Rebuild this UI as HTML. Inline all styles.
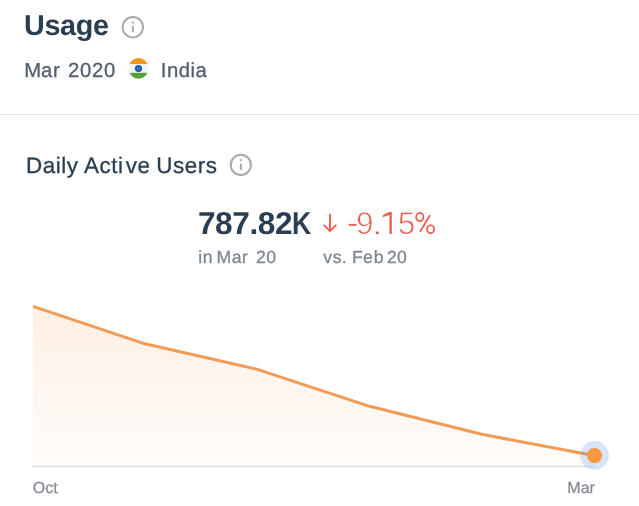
<!DOCTYPE html>
<html>
<head>
<meta charset="utf-8">
<style>
html,body{margin:0;padding:0;background:#fff;}
body{width:639px;height:506px;position:relative;overflow:hidden;font-family:"Liberation Sans",sans-serif;}
.t{text-rendering:geometricPrecision;position:absolute;white-space:nowrap;line-height:1;transform-origin:0 0;}
#title{left:24.0px;top:11.9px;font-size:28.8px;letter-spacing:-0.35px;font-weight:bold;color:#2a3e52;}
#date{left:24.3px;top:61.2px;font-size:20.3px;letter-spacing:0.75px;color:#535e6e;}
#country{left:160.8px;top:61.2px;font-size:20.3px;letter-spacing:0.5px;color:#535e6e;}
#hr{position:absolute;left:0;top:114px;width:639px;height:1px;background:#e3e3e4;border-bottom:1px solid #f8f8f8;}
#dau{left:26.0px;top:154.5px;font-size:22.4px;letter-spacing:0.55px;color:#2a3e52;}
#big{left:197.9px;top:207.6px;font-size:31.6px;letter-spacing:-0.4px;font-weight:bold;color:#2a3e52;}
#pct{left:348px;top:207.6px;font-size:31.6px;color:#ec5d4f;-webkit-text-stroke:0.7px #fff;}
#pct span{position:absolute;top:0;}
#date,#country,#dau,#sub1,#sub2,#oct,#mar{-webkit-text-stroke-width:0.3px;}
#sub1{left:198.3px;top:248.5px;font-size:17.6px;letter-spacing:0.5px;color:#7e8792;}
#sub2{left:323.2px;top:248.5px;font-size:17.6px;letter-spacing:0.15px;color:#7e8792;}
#oct{left:32.8px;top:481.3px;font-size:16px;color:#868d98;}
#mar{left:567.3px;top:481.3px;font-size:16px;color:#868d98;}
svg{position:absolute;left:0;top:0;}
</style>
</head>
<body>
<div id="texts" style="position:absolute;left:0;top:0;width:639px;height:506px;will-change:transform;">
<div class="t" id="title">Usage</div>
<div class="t" id="date">M<span style="position:relative;left:-1px">ar</span> 2020</div>
<div class="t" id="country">India</div>
<div id="hr"></div>
<div class="t" id="dau">Daily Acti<span style="position:relative;left:2.1px">ve</span> <span style="position:relative;left:1.2px">Users</span></div>
<div class="t" id="big">787.82<span style="display:inline-block;transform:scaleX(0.84);transform-origin:0 0;">K</span></div>
<div class="t" id="pct"><span style="left:8.0px">9</span><span style="left:49.8px">5</span></div>
<div class="t" id="sub1">in <span style="position:relative;left:-1.9px">Mar</span> <span style="position:relative;left:0.3px">20</span></div>
<div class="t" id="sub2">v<span style="position:relative;left:0.7px">s.</span> <span style="position:relative;left:0.9px">Fe<span style="position:relative;left:0.9px">b</span></span> 20</div>
<div class="t" id="oct">Oct</div>
<div class="t" id="mar">Mar</div>
</div>
<svg width="639" height="506" viewBox="0 0 639 506">
  <defs>
    <linearGradient id="g" gradientUnits="userSpaceOnUse" x1="0" y1="306" x2="0" y2="466">
      <stop offset="0" stop-color="#fef0e4"/>
      <stop offset="1" stop-color="#fffcfa"/>
    </linearGradient>
    <clipPath id="fc"><ellipse cx="138.5" cy="68.4" rx="10" ry="10.4"/></clipPath>
  </defs>
  <!-- info icons -->
  <circle cx="132.8" cy="27.2" r="10.2" fill="none" stroke="#a9aaab" stroke-width="2"/>
  <rect x="131.9" y="26" width="2" height="6.3" fill="#a9aaab"/>
  <rect x="131.9" y="21.6" width="2" height="2" fill="#a9aaab"/>
  <circle cx="240.8" cy="164.9" r="10.1" fill="none" stroke="#a9aaab" stroke-width="2"/>
  <rect x="239.9" y="163.6" width="2" height="6.3" fill="#a9aaab"/>
  <rect x="239.9" y="159.1" width="2" height="2" fill="#a9aaab"/>
  <!-- flag -->
  <g clip-path="url(#fc)">
    <rect x="128" y="57" width="22" height="7.2" fill="#f7941d"/>
    <rect x="128" y="64.2" width="22" height="8.6" fill="#f5f5f5"/>
    <rect x="128" y="72.8" width="22" height="7.2" fill="#55a238"/>
    <circle cx="138.5" cy="68.5" r="3.6" fill="#1f57a8"/>
    <circle cx="138.5" cy="68.5" r="1.6" fill="#3d7bd0"/>
  </g>
  <!-- arrow -->
  <path d="M330 214 V231 M323.7 224.9 L330 231.2 L336.3 224.9" fill="none" stroke="#ec5d4f" stroke-width="1.9" stroke-linejoin="round"/>
  <!-- pct glyphs -->
  <g fill="#ec5d4f" stroke="none">
    <rect x="348.8" y="223.9" width="7.6" height="1.9"/>
    <rect x="375.8" y="231.5" width="3.1" height="2.6" rx="0.9"/>
    <path d="M389.2 212 H391.8 V234 H389.5 V214.7 L382.9 217.3 V215.0 Z"/>
  </g>
  <g fill="none" stroke="#ec5d4f" stroke-width="1.75">
    <ellipse cx="419.8" cy="217.0" rx="3.6" ry="4.1"/>
    <ellipse cx="430.6" cy="229.1" rx="3.5" ry="4.1"/>
    <path d="M430.0 215.2 L420.0 231.8"/>
  </g>
  <!-- chart -->
  <path d="M33 306.3 L145 343.8 L257.4 369.4 L369.6 406.3 L481.8 434.3 L594 455.5 L594 466 L33 466 Z" fill="url(#g)"/>
  <rect x="32.5" y="465.8" width="561.5" height="1.3" fill="#d9dcdf"/>
  <path d="M33 306.3 L145 343.8 L257.4 369.4 L369.6 406.3 L481.8 434.3 L594 455.5" fill="none" stroke="#f29b54" stroke-width="3" stroke-linejoin="round"/>
  <circle cx="594.6" cy="455.4" r="14.3" fill="#5b9be3" fill-opacity="0.25"/>
  <circle cx="594.5" cy="455.6" r="7.5" fill="#f89840"/>
</svg>
</body>
</html>
